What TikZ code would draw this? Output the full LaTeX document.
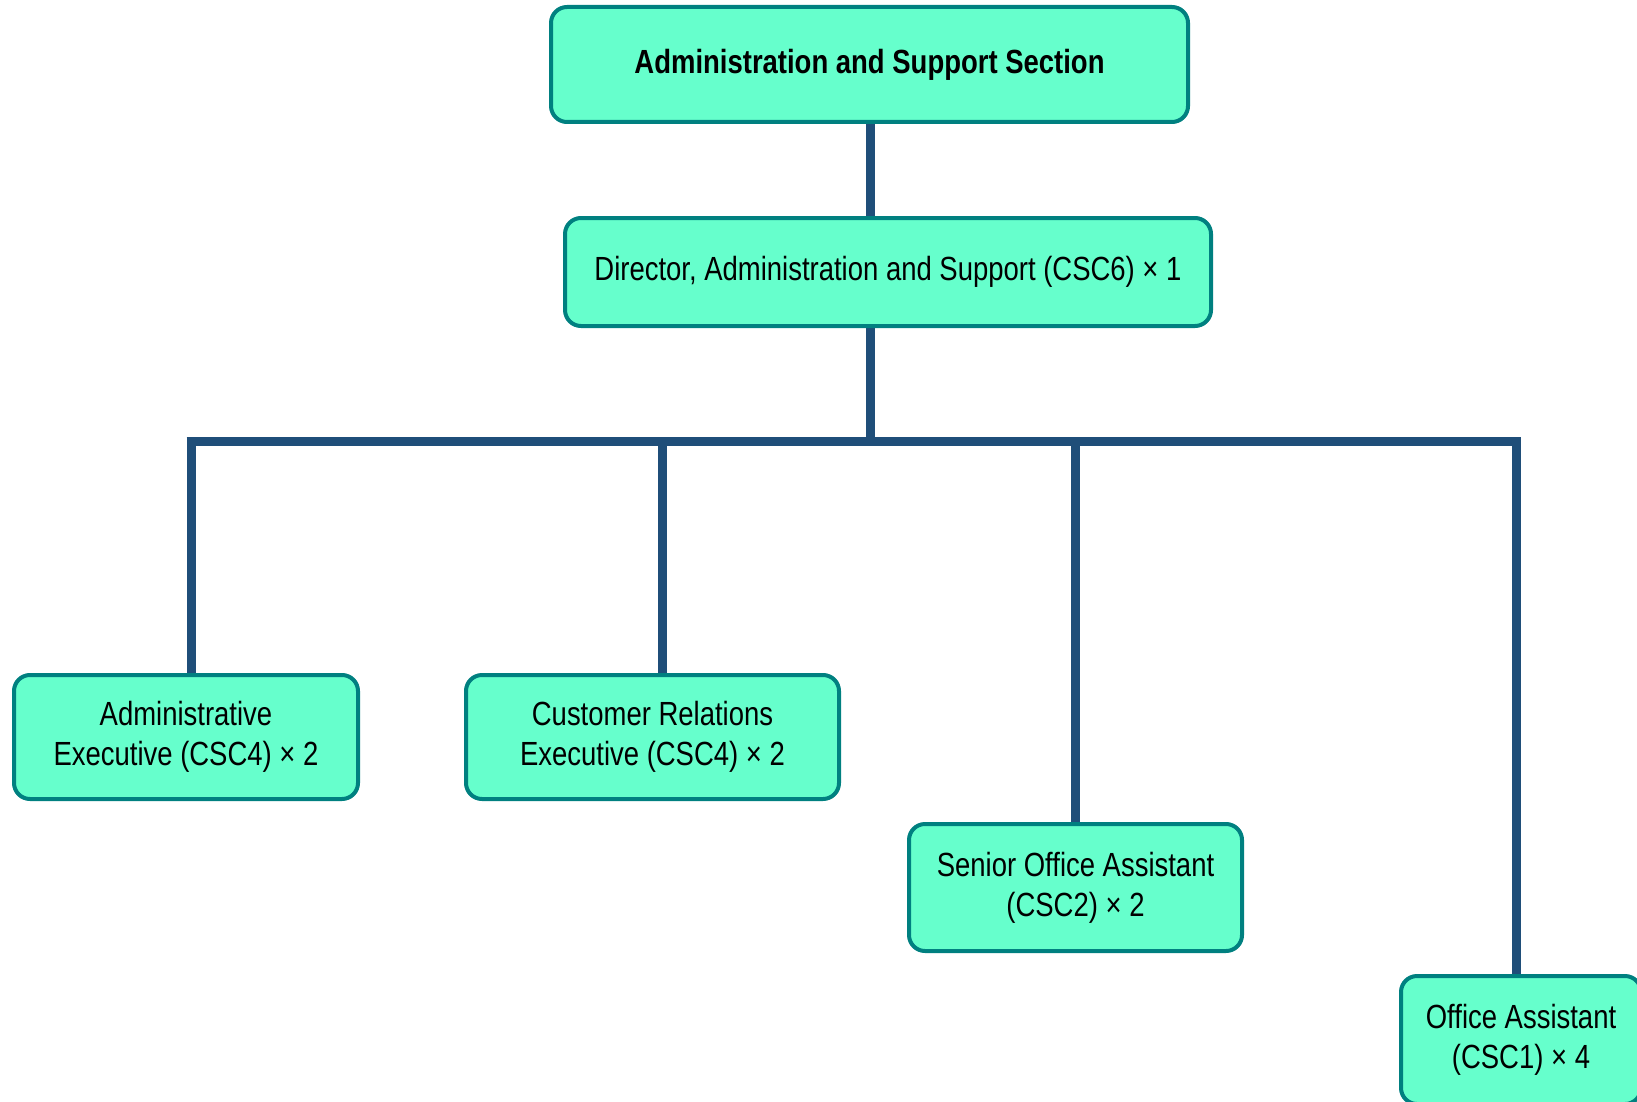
\documentclass[tikz,border=0pt]{standalone}
\usepackage{fontspec}
\setmainfont{Liberation Sans}[FakeStretch=0.82]
\usetikzlibrary{backgrounds}
\definecolor{boxfill}{RGB}{102,255,204}
\definecolor{boxline}{RGB}{0,128,128}
\definecolor{conn}{RGB}{31,78,121}
\tikzset{
  orgbox/.style={draw=boxline, fill=boxfill, line width=4pt, rounded corners=16pt,
    align=center, inner sep=0pt, font=\fontsize{33.5}{40}\selectfont},
  link/.style={draw=conn, line width=9pt}
}
\begin{document}
\begin{tikzpicture}[x=1pt,y=-1pt]
\useasboundingbox (0,0) rectangle (1637,1102);
\clip (0,0) rectangle (1637,1102);
\coordinate (j0) at (870,441);
\coordinate (d1) at (191,441);
\coordinate (d2) at (662,441);
\coordinate (d3) at (1075,441);
\coordinate (d4) at (1516,441);
\node[orgbox, minimum width=637pt, minimum height=115pt, font=\fontsize{33.5}{40}\selectfont\bfseries] (top) at (869.5,64.5) {Administration and Support Section};
\node[orgbox, minimum width=646pt, minimum height=108pt] (dir) at (888,272) {Director, Administration and Support (CSC6) × 1};
\node[orgbox, minimum width=344pt, minimum height=124pt] (ae) at (186,737) {Administrative\\Executive (CSC4) × 2};
\node[orgbox, minimum width=373pt, minimum height=124pt] (cr) at (652.5,737) {Customer Relations\\Executive (CSC4) × 2};
\node[orgbox, minimum width=333pt, minimum height=127pt] (soa) at (1075.5,887.5) {Senior Office Assistant\\(CSC2) × 2};
\node[orgbox, minimum width=240pt, minimum height=128pt] (oa) at (1521,1040) {Office Assistant\\(CSC1) × 4};
\begin{scope}[on background layer]
  \draw[link] (top.south -| j0) -- (dir.north -| j0);
  \draw[link] (dir.south -| j0) -- (j0);
  \draw[link] ([xshift=-4.5pt]d1) -- ([xshift=4.5pt]d4);
  \draw[link] ([yshift=-4.5pt]d1) -- (ae.north -| d1);
  \draw[link] (d2) -- (cr.north -| d2);
  \draw[link] (d3) -- (soa.north -| d3);
  \draw[link] ([yshift=-4.5pt]d4) -- (oa.north -| d4);
\end{scope}
\end{tikzpicture}
\end{document}
